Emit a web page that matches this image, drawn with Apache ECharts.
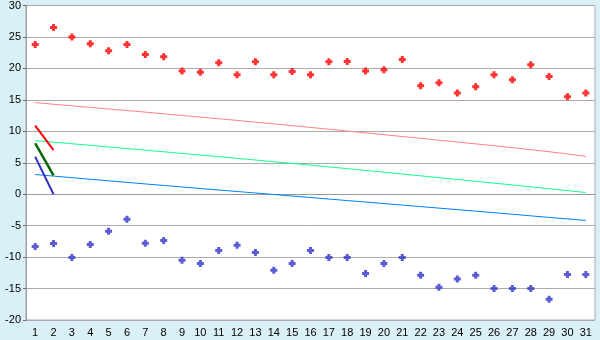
<!DOCTYPE html>
<html>
<head>
<meta charset="utf-8">
<script src="https://cdn.jsdelivr.net/npm/echarts@6/dist/echarts.min.js"></script>
<style>html,body{margin:0;padding:0;background:#d9f0f7;}#c{width:600px;height:340px;}</style>
</head>
<body>
<div id="c"></div>
<script>
var days = ['1','2','3','4','5','6','7','8','9','10','11','12','13','14','15','16','17','18','19','20','21','22','23','24','25','26','27','28','29','30','31'];
var maxTemps = [23.8,26.5,25.0,23.9,22.8,23.8,22.2,21.85,19.6,19.4,20.9,19.0,21.05,19.0,19.5,19.0,21.05,21.1,19.6,19.8,21.4,17.25,17.7,16.1,17.1,19.0,18.2,20.6,18.7,15.5,16.1];
var minTemps = [-8.3,-7.85,-10.05,-8.0,-5.9,-4.0,-7.8,-7.35,-10.5,-11.0,-8.95,-8.1,-9.25,-12.1,-11.0,-8.95,-10.05,-10.05,-12.6,-11.0,-10.05,-12.9,-14.8,-13.5,-12.9,-15.0,-15.0,-15.0,-16.7,-12.75,-12.75];
var normalMax = [14.56,14.3,14.05,13.8,13.55,13.3,13.05,12.78,12.52,12.26,12.0,11.73,11.45,11.18,10.9,10.62,10.33,10.04,9.75,9.46,9.17,8.88,8.59,8.3,8.0,7.7,7.4,7.08,6.75,6.4,6.0];
var normalMean = [8.52,8.27,8.02,7.77,7.52,7.26,7.0,6.74,6.48,6.22,5.96,5.7,5.43,5.16,4.89,4.62,4.34,4.06,3.78,3.5,3.21,2.92,2.63,2.34,2.05,1.76,1.47,1.17,0.87,0.57,0.27];
var normalMin = [3.13,2.88,2.63,2.38,2.13,1.88,1.63,1.39,1.15,0.91,0.67,0.43,0.19,-0.05,-0.29,-0.53,-0.77,-1.01,-1.25,-1.49,-1.73,-1.97,-2.21,-2.45,-2.69,-2.94,-3.19,-3.44,-3.69,-3.93,-4.17];
var currentMax = [10.9,7.0];
var currentMean = [8.1,3.0];
var currentMin = [5.95,0.0];

var plus = 'path://M2,0h3v2h2v3h-2v2h-3v-2h-2v-3h2z';
var chart = echarts.init(document.getElementById('c'), null, {renderer:'canvas'});
function lineS(d, color, w){
  return {type:'line', data:d, showSymbol:false, symbol:'none', lineStyle:{color:color, width:w}, z:3, silent:true};
}
chart.setOption({
  animation:false,
  backgroundColor:'#d9f0f7',
  grid:{left:26, right:5, top:5, bottom:20, show:true, backgroundColor:'#ffffff', borderColor:'#aaaaaa', borderWidth:1},
  xAxis:{type:'category', data:days, boundaryGap:true,
    axisLine:{lineStyle:{color:'#999999'}},
    axisTick:{alignWithLabel:true, length:4, lineStyle:{color:'#666666'}},
    axisLabel:{color:'#000', fontFamily:'Liberation Sans', fontSize:11, margin:7, interval:0},
    splitLine:{show:false}},
  yAxis:{type:'value', min:-20, max:30, interval:5,
    axisLine:{show:true, lineStyle:{color:'#999999'}},
    axisTick:{show:true, length:3, lineStyle:{color:'#666666'}},
    axisLabel:{color:'#000', fontFamily:'Liberation Sans', fontSize:11, margin:5},
    splitLine:{lineStyle:{color:'#aaaaaa', width:1}}},
  series:[
    lineS(normalMax,'#ff8080',1),
    lineS(normalMean,'#11ff88',1),
    lineS(normalMin,'#0080ff',1),
    lineS(currentMax,'#ff0000',2),
    lineS(currentMean,'#006600',2.5),
    lineS(currentMin,'#3333cc',2),
    {type:'scatter', data:maxTemps, symbol:plus, symbolSize:7, itemStyle:{color:'#ff0000'}, z:4},
    {type:'scatter', data:minTemps, symbol:plus, symbolSize:7, itemStyle:{color:'#3333cc'}, z:4}
  ]
});
</script>
</body>
</html>
